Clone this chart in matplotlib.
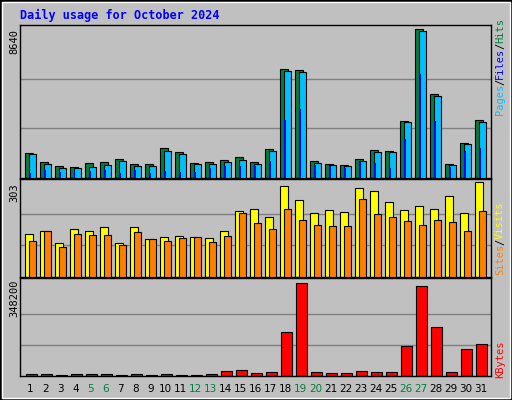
import matplotlib

matplotlib.use("Agg")
import matplotlib.pyplot as plt
import numpy as np
from matplotlib.patches import Rectangle

days = np.arange(1, 32)
weekend = [5, 6, 12, 13, 19, 20, 26, 27]

hits = [1430, 915, 687, 629, 858, 915, 1106, 801, 801, 1716, 1488, 858, 915, 1030, 1201, 915,
        1659, 6351, 6294, 973, 801, 744, 1106, 1602, 1545, 3319, 8640, 4863, 801, 2060, 3376]
files = [1373, 801, 572, 572, 629, 744, 973, 687, 687, 1545, 1373, 801, 801, 915, 1030, 801,
         1545, 6236, 6179, 858, 744, 687, 973, 1488, 1488, 3261, 8530, 4749, 744, 2002, 3261]
pages = [305, 458, 343, 343, 400, 458, 286, 458, 286, 400, 343, 343, 572, 687, 687, 687,
         973, 3376, 4005, 744, 687, 572, 915, 858, 572, 2288, 6065, 3319, 629, 1545, 1716]
visits = [138, 148, 109, 152, 145, 158, 109, 158, 120, 128, 132, 128, 125, 148, 211, 217,
          191, 290, 244, 204, 214, 208, 283, 273, 240, 214, 227, 217, 257, 204, 303]
sites = [115, 148, 96, 138, 135, 135, 102, 142, 120, 115, 125, 128, 112, 132, 204, 171,
         152, 217, 181, 165, 161, 161, 247, 201, 191, 178, 165, 181, 175, 148, 211]
kbytes = [7626, 7626, 3813, 7626, 7626, 7626, 3813, 7626, 3813, 7626, 3813, 3813, 7626, 19065,
          22878, 11439, 15252, 163959, 348200, 15252, 11439, 11439, 19065, 15252, 15252,
          110577, 335544, 183024, 15252, 99138, 118203]

W, H = 512, 400
BG = "#C0C0C0"
MONO = "DejaVu Sans Mono"
X0, X1 = 0.3, 31.7  # day range spanned by the panel boxes

fig = plt.figure(figsize=(W / 100, H / 100), dpi=100)
fig.patch.set_facecolor(BG)
# bevelled outer frame
fig.add_artist(Rectangle((0, 0), 1, 1, transform=fig.transFigure, fill=False, ec="black", lw=2))
fig.add_artist(Rectangle((2 / W, 2 / H), 1 - 4 / W, 1 - 4 / H, transform=fig.transFigure,
                         fill=False, ec="white", lw=1))

fig.text(20 / W, 1 - 15 / H, "Daily usage for October 2024", color="#0000FF",
         fontsize=8.5, fontweight="bold", family=MONO, va="center")


def panel(y0, y1):
    ax = fig.add_axes([20 / W, 1 - y1 / H, 471 / W, (y1 - y0) / H])
    ax.set_facecolor(BG)
    ax.set_xlim(X0, X1)
    ax.set_xticks([])
    ax.set_yticks([])
    for s in ax.spines.values():
        s.set_color("black")
        s.set_linewidth(1)
    return ax


def grid(ax, top):
    for f in (1 / 3, 2 / 3):
        ax.axhline(top * f, color="#808080", lw=1, zorder=0)


edge = dict(edgecolor="black", linewidth=0.8)

ax1 = panel(25, 178)
ax1.set_ylim(0, 8640 * 1.03)
grid(ax1, 8640)
ax1.bar(days - 0.13, hits, 0.53, color="#008040", zorder=2, **edge)
ax1.bar(days + 0.12, files, 0.5, color="#00C0FF", zorder=3, **edge)
ax1.bar(days - 0.06, pages, 0.12, color="#0000FF", zorder=4, linewidth=0)

ax2 = panel(179, 277)
ax2.set_ylim(0, 303 * 1.03)
grid(ax2, 303)
ax2.bar(days - 0.13, visits, 0.53, color="#FFFF00", zorder=2, **edge)
ax2.bar(days + 0.12, sites, 0.5, color="#FF8000", zorder=3, **edge)

ax3 = panel(278, 376)
ax3.set_ylim(0, 348200 * 1.05)
grid(ax3, 348200)
ax3.bar(days + 0.05, kbytes, 0.72, color="#FF0000", zorder=2, **edge)

for y, txt in ((42, "8640"), (193, "303"), (298, "348200")):
    fig.text(14 / W, 1 - y / H, txt, rotation=90, fontsize=7.5, family=MONO,
             ha="center", va="center")


def side(parts, y_bottom):
    y = y_bottom
    for txt, col in parts:
        fig.text(500 / W, 1 - y / H, txt, rotation=90, color=col, fontsize=7.5,
                 family=MONO, ha="center", va="bottom")
        y -= len(txt) * 6.0


side([("Pages", "#00C0FF"), ("/", "black"), ("Files", "#0000FF"), ("/", "black"),
      ("Hits", "#008040")], 115)
side([("Sites", "#FF8000"), ("/", "black"), ("Visits", "#FFFF00")], 275)
side([("KBytes", "#FF0000")], 378)

for d in days:
    x = 20 + (d - X0) / (X1 - X0) * 471
    fig.text(x / W, 1 - 389 / H, str(d), fontsize=7.5, family="DejaVu Sans",
             color="#008040" if d in weekend else "black", ha="center", va="center")

fig.savefig("out.png", dpi=100, facecolor=BG)
